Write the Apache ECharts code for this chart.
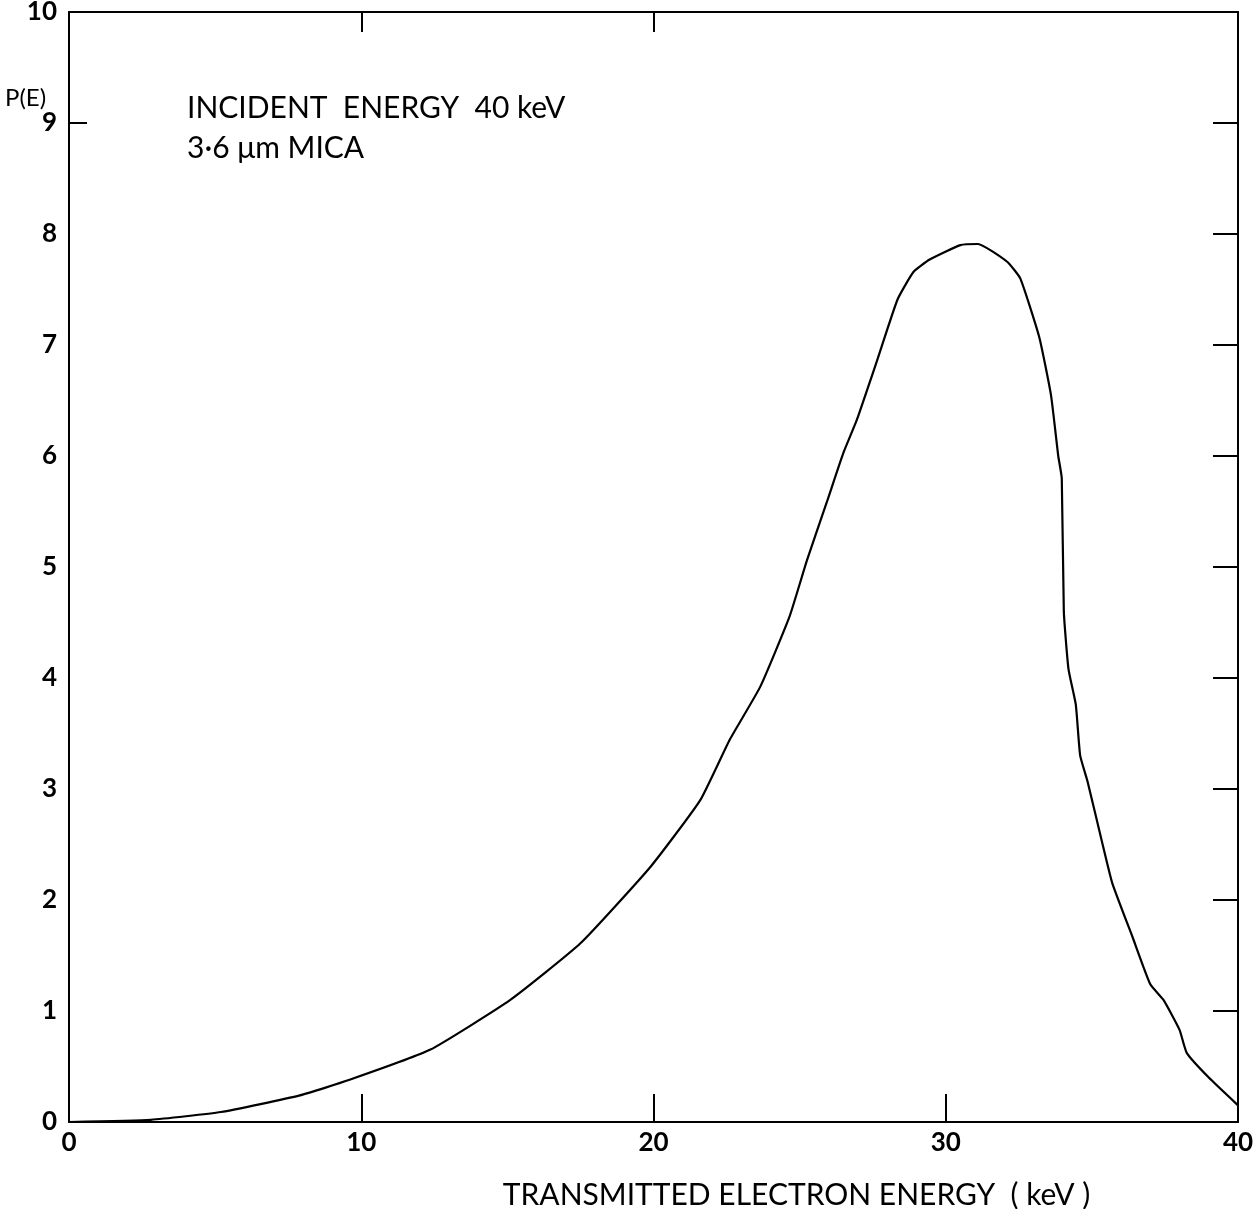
<!DOCTYPE html>
<html>
<head>
<meta charset="utf-8">
<script src="https://cdn.jsdelivr.net/npm/echarts@6/dist/echarts.min.js"></script>
<style>
  html, body { margin: 0; padding: 0; background: #fff; }
  #main { width: 1256px; height: 1209px; }
</style>
</head>
<body>
<div id="main"></div>
<script>
var energy = [0, 2.8, 5.2, 7.9, 9.6, 12.35, 15.1, 17.5, 19.9, 21.6, 22.6, 23.65, 24.65, 25.25, 25.95, 26.5, 26.95, 27.65, 28.35, 28.9, 29.45, 30.5, 31.1, 32.1, 32.55, 33.2, 33.6, 33.85, 33.97, 34.04, 34.2, 34.45, 34.6, 34.85, 35.35, 35.7, 36.4, 37.0, 37.45, 38.0, 38.25, 39.0, 40];
var prob   = [0, 0.02, 0.09, 0.24, 0.38, 0.65, 1.1, 1.61, 2.3, 2.9, 3.44, 3.92, 4.55, 5.06, 5.6, 6.03, 6.32, 6.86, 7.41, 7.66, 7.77, 7.9, 7.91, 7.75, 7.6, 7.07, 6.55, 6.0, 5.8, 4.6, 4.08, 3.76, 3.3, 3.07, 2.52, 2.15, 1.66, 1.24, 1.1, 0.83, 0.62, 0.4, 0.15];
var xTicks = [0, 10, 20, 30, 40];
var yTicks = [0, 1, 2, 3, 4, 5, 6, 7, 8, 9, 10];

var myChart = echarts.init(document.getElementById('main'));
var font = 'Lato, "Open Sans", sans-serif';
var lineStyle = { color: '#000', width: 2 };

var points = energy.map(function (e, i) { return [e, prob[i]]; });

var option = {
    animation: false,
    backgroundColor: '#fff',
    grid: { left: 69, right: 18, top: 12, bottom: 87, outerBoundsMode: 'none' },
    graphic: [
        { type: 'text', left: 187, top: 93, style: { text: 'INCIDENT  ENERGY  40 keV', font: '30px ' + font, fill: '#000' } },
        { type: 'text', left: 187, top: 133, style: { text: '3·6 μm MICA', font: '30px ' + font, fill: '#000' } },
        { type: 'text', left: 5, top: 86, style: { text: 'P(E)', font: '24px ' + font, fill: '#000' } }
    ],
    xAxis: [
        {
            type: 'value', position: 'bottom', min: 0, max: 40, interval: 10,
            name: 'TRANSMITTED ELECTRON ENERGY  ( keV )',
            nameLocation: 'middle', nameGap: 58,
            nameTextStyle: { fontFamily: font, fontSize: 30, color: '#000', padding: [0, 0, 0, 286] },
            axisLine: { onZero: false, lineStyle: lineStyle },
            axisTick: { inside: true, length: 28, lineStyle: lineStyle, customValues: [10, 20, 30] },
            axisLabel: { fontFamily: font, fontSize: 26, fontWeight: 'bold', color: '#000', margin: 8, customValues: xTicks },
            splitLine: { show: false }
        },
        {
            type: 'value', position: 'top', min: 0, max: 40, interval: 10,
            axisLine: { onZero: false, lineStyle: lineStyle },
            axisTick: { inside: true, length: 20, lineStyle: lineStyle, customValues: [10, 20] },
            axisLabel: { show: false },
            splitLine: { show: false }
        }
    ],
    yAxis: [
        {
            type: 'value', position: 'left', min: 0, max: 10, interval: 1,
            axisLine: { onZero: false, lineStyle: lineStyle },
            axisTick: { inside: true, length: 18, lineStyle: lineStyle, customValues: [9] },
            axisLabel: { fontFamily: font, fontSize: 26, fontWeight: 'bold', color: '#000', margin: 12, customValues: yTicks },
            splitLine: { show: false }
        },
        {
            type: 'value', position: 'right', min: 0, max: 10, interval: 1,
            axisLine: { onZero: false, lineStyle: lineStyle },
            axisTick: { inside: true, length: 25, lineStyle: lineStyle, customValues: [1, 2, 3, 4, 5, 6, 7, 8, 9] },
            axisLabel: { show: false },
            splitLine: { show: false }
        }
    ],
    series: [
        {
            type: 'line',
            data: points,
            smooth: 0.15,
            showSymbol: false,
            lineStyle: { color: '#000', width: 2.2 }
        }
    ]
};

myChart.setOption(option);
</script>
</body>
</html>
